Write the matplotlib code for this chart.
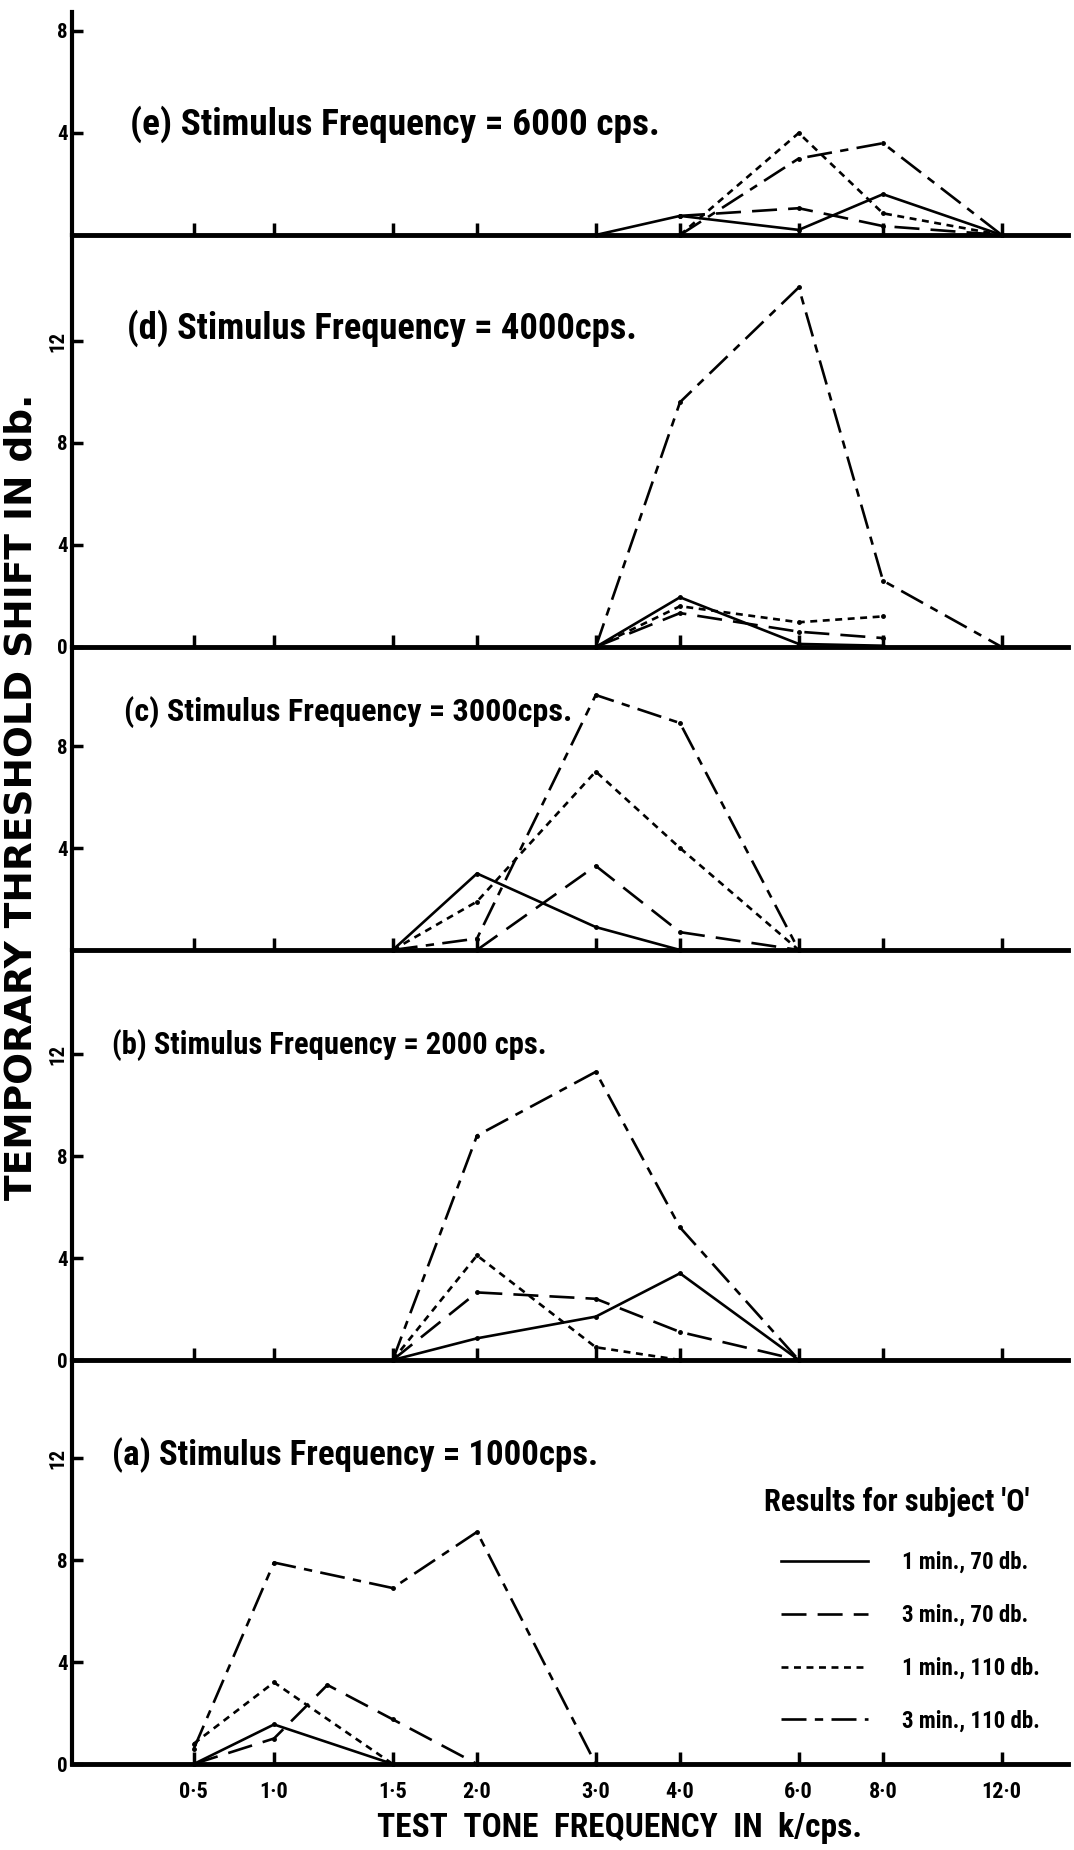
import numpy as np
import matplotlib
matplotlib.use("Agg")
import matplotlib.pyplot as plt
from matplotlib.lines import Line2D
from matplotlib import font_manager

nan = np.nan

# --------------------------
# Data (threshold shift in db)
# --------------------------
series_names = ["1 min., 70 db.", "3 min., 70 db.", "1 min., 110 db.", "3 min., 110 db."]

tone_ticks = [0.5, 1.0, 1.5, 2.0, 3.0, 4.0, 6.0, 8.0, 12.0]
tone_labels = ["0·5", "1·0", "1·5", "2·0", "3·0", "4·0", "6·0", "8·0", "12·0"]

# (a) stimulus 1000 cps
a_tones = [0.5, 1.0, 1.2, 1.5, 2.0, 3.0]
a_1min70 = [0, 1.55, nan, 0, nan, nan]
a_3min70 = [0, 1.0, 3.1, 1.75, 0, nan]
a_1min110 = [0.8, 3.2, nan, 0, nan, nan]
a_3min110 = [0.6, 7.9, nan, 6.9, 9.1, 0]

# (b) stimulus 2000 cps
b_tones = [1.5, 2.0, 3.0, 4.0, 6.0]
b_1min70 = [0, 0.85, 1.7, 3.4, 0]
b_3min70 = [0, 2.65, 2.4, 1.1, 0]
b_1min110 = [0, 4.1, 0.5, 0, nan]
b_3min110 = [0, 8.8, 11.3, 5.2, 0]

# (c) stimulus 3000 cps
c_tones = [1.5, 2.0, 3.0, 4.0, 6.0]
c_1min70 = [0, 3.0, 0.9, 0, nan]
c_3min70 = [nan, 0, 3.3, 0.7, 0]
c_1min110 = [0, 1.9, 7.0, 4.0, 0]
c_3min110 = [0, 0.45, 10.0, 8.9, 0]

# (d) stimulus 4000 cps
d_tones = [3.0, 4.0, 6.0, 8.0, 12.0]
d_1min70 = [0, 1.95, 0.12, 0.05, nan]
d_3min70 = [0, 1.33, 0.6, 0.35, nan]
d_1min110 = [0, 1.6, 0.97, 1.2, nan]
d_3min110 = [0, 9.6, 14.1, 2.6, 0]

# (e) stimulus 6000 cps
e_tones = [3.0, 4.0, 6.0, 8.0, 12.0]
e_1min70 = [0, 0.75, 0.2, 1.6, 0]
e_3min70 = [nan, 0.75, 1.05, 0.35, 0]
e_1min110 = [nan, 0, 4.0, 0.85, 0]
e_3min110 = [nan, 0, 3.0, 3.6, 0]

panels = [
    ("(e) Stimulus Frequency = 6000 cps.", e_tones, [e_1min70, e_3min70, e_1min110, e_3min110], [4, 8]),
    ("(d) Stimulus Frequency = 4000cps.", d_tones, [d_1min70, d_3min70, d_1min110, d_3min110], [0, 4, 8, 12]),
    ("(c) Stimulus Frequency = 3000cps.", c_tones, [c_1min70, c_3min70, c_1min110, c_3min110], [4, 8]),
    ("(b) Stimulus Frequency = 2000 cps.", b_tones, [b_1min70, b_3min70, b_1min110, b_3min110], [0, 4, 8, 12]),
    ("(a) Stimulus Frequency = 1000cps.", a_tones, [a_1min70, a_3min70, a_1min110, a_3min110], [0, 4, 8, 12]),
]

# --------------------------
# Styles / layout
# --------------------------
plt.rcParams["lines.scale_dashes"] = False
installed = {f.name for f in font_manager.fontManager.ttflist}
NARROW = next((n for n in ["Roboto Condensed", "Liberation Sans Narrow", "Liberation Sans"]
               if n in installed), "DejaVu Sans")

styles = [
    dict(linestyle="-"),
    dict(linestyle=(0, (18, 8))),
    dict(linestyle=(0, (5, 4))),
    dict(linestyle=(0, (18, 6, 6, 6))),
]

W, H = 1074, 1850
# panel tops / baselines in pixels (top to bottom)
panel_top = [12, 235, 647, 950, 1360]
panel_base = [235, 647, 950, 1360, 1764]
px_per_db = 25.5
ax_left, ax_right = 72, 1068
title_pos = [(130, 124), (127, 328), (124, 712), (112, 1045), (112, 1455)]
title_size = [26.9, 26.3, 23.2, 22.1, 25.1]


# the original squeezes the 0.5 k/cps tone closer to 1.0 than an octave
def fwd(f):
    f = np.asarray(f, dtype=float)
    return np.where(f >= 1, np.log2(np.maximum(f, 1)), (f - 1) * 0.79)

def inv(p):
    p = np.asarray(p, dtype=float)
    return np.where(p >= 0, 2.0 ** np.minimum(p, 30), 1 + p / 0.79)


px_per_oct = 203.0
pos_left = (ax_left - 274) / px_per_oct
pos_right = (ax_right - 274) / px_per_oct

fig = plt.figure(figsize=(W / 100, H / 100), dpi=100)

axes = []
for i, (title, tones, ys, yt) in enumerate(panels):
    top, base = panel_top[i], panel_base[i]
    ax = fig.add_axes([ax_left / W, 1 - base / H, (ax_right - ax_left) / W, (base - top) / H])
    ax.set_xscale("function", functions=(fwd, inv))
    ax.set_xlim(float(inv(pos_left)), float(inv(pos_right)))
    ax.set_ylim(0, (base - top) / px_per_db)
    ax.patch.set_alpha(0)

    x = np.array(tones)
    for y, st in zip(ys, styles):
        y = np.array(y, dtype=float)
        m = ~np.isnan(y)
        ax.plot(x[m], y[m], color="black", lw=1.9, marker="o", markersize=2.5,
                solid_capstyle="butt", dash_capstyle="butt", clip_on=False, **st)

    for s in ["top", "right"]:
        ax.spines[s].set_visible(False)
    ax.spines["left"].set_linewidth(3)
    ax.spines["bottom"].set_linewidth(3.5)

    ax.set_xticks(tone_ticks)
    ax.xaxis.set_minor_locator(matplotlib.ticker.NullLocator())
    ax.tick_params(axis="x", direction="in", length=9, width=2.5)
    if i == len(panels) - 1:
        ax.set_xticklabels(tone_labels, fontsize=16, fontweight="bold", family=NARROW)
        ax.tick_params(axis="x", pad=12)
    else:
        ax.set_xticklabels([])

    ax.set_yticks(yt)
    ax.set_yticklabels([str(v) for v in yt], fontsize=15, fontweight="bold", family=NARROW)
    for lbl in ax.get_yticklabels():
        if len(lbl.get_text()) > 1:
            lbl.set_rotation(90)
            lbl.set_verticalalignment("center")
    ax.tick_params(axis="y", direction="in", length=8, width=2.5, pad=3)

    tx, ty = title_pos[i]
    fig.text(tx / W, 1 - ty / H, title, fontsize=title_size[i], fontweight="bold",
             family=NARROW, ha="left", va="center")
    axes.append(ax)

# legend in panel (a), its heading set as separate text
fig.text(897 / W, 1 - 1502 / H, "Results for subject 'O'", fontsize=22,
         fontweight="bold", family=NARROW, ha="center", va="center")
handles = [Line2D([], [], color="black", lw=1.9, **st) for st in styles]
leg = axes[-1].legend(handles, series_names,
                      loc="upper left", bbox_to_anchor=(781 / W, 1 - 1551 / H),
                      bbox_transform=fig.transFigure, frameon=False,
                      prop=dict(family=NARROW, weight="bold", size=16.5),
                      handlelength=3.8, handletextpad=1.5, labelspacing=1.3,
                      borderpad=0, borderaxespad=0)

fig.text(22 / W, 1 - 675 / 1568, "TEMPORARY THRESHOLD SHIFT IN db.", rotation=90,
         fontsize=27, fontweight="bold", ha="center", va="center")
fig.text(620 / W, 1 - 1828 / H, "TEST  TONE  FREQUENCY  IN  k/cps.", fontsize=24,
         fontweight="bold", family=NARROW, ha="center", va="center")

fig.savefig("out.png", dpi=100)
